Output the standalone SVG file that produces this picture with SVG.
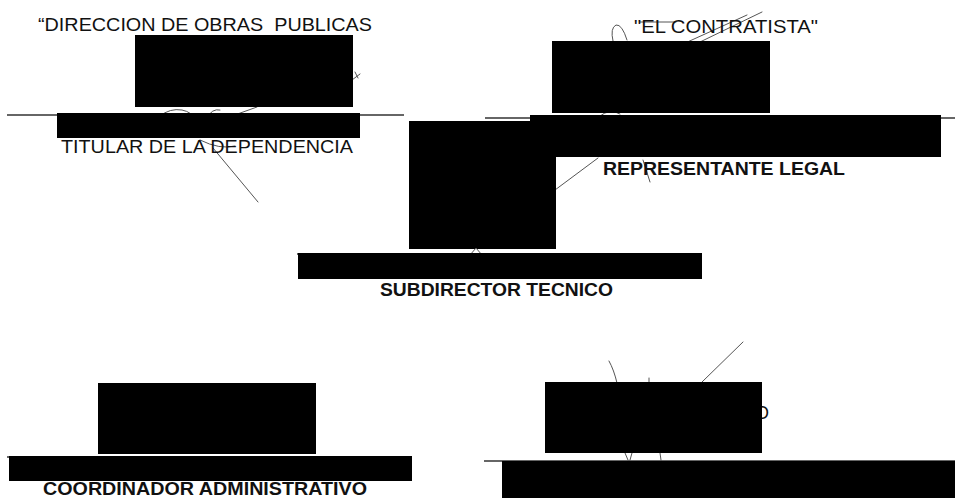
<svg xmlns="http://www.w3.org/2000/svg" width="955" height="498" viewBox="0 0 955 498">
<style>
.t{font-family:"Liberation Sans",Arial,sans-serif;font-size:18px;fill:#111}
.b{font-weight:bold}
.rule{stroke:#333;stroke-width:1.6;fill:none}
.box{fill:#000}
.sig{stroke:#555;stroke-width:1;fill:none;stroke-linecap:round}
</style>
<rect width="955" height="498" fill="#fff"/>

<g id="dependencia">
<text class="t" x="38" y="31" textLength="334" lengthAdjust="spacingAndGlyphs" xml:space="preserve">“DIRECCION DE OBRAS  PUBLICAS</text>
<line class="rule" x1="7" y1="115" x2="404" y2="115"/>
<path class="sig" d="M160 116 Q170 108 182 110 Q192 112 196 120 M207 118 Q212 108 220 110 M232 116 L257 107 M200 140 Q220 150 235 146 M213 148 L258 202 M352 80 L360 74 M355 72 L358 78"/>
<text class="t" x="61" y="153" textLength="292" lengthAdjust="spacingAndGlyphs">TITULAR DE LA DEPENDENCIA</text>
<rect class="box" x="135" y="35" width="218" height="72"/>
<rect class="box" x="57" y="113" width="303" height="25"/>
</g>

<g id="contratista">
<path class="sig" d="M613 41 Q610 28 616 25 Q622 24 627 40 M683 44 L747 15 M700 42 L762 12 M640 22 L676 22"/>
<text class="t" x="634" y="33" textLength="184" lengthAdjust="spacingAndGlyphs">"EL CONTRATISTA"</text>
<line class="rule" x1="485" y1="118" x2="955" y2="118"/>
<path class="sig" d="M555 190 L598 158 M643 160 L650 182 M600 116 Q610 108 620 114"/>
<text class="t b" x="603" y="175" textLength="242" lengthAdjust="spacingAndGlyphs">REPRESENTANTE LEGAL</text>
<rect class="box" x="552" y="41" width="218" height="72"/>
<rect class="box" x="530" y="115" width="411" height="42"/>
</g>

<g id="subdirector">
<rect class="box" x="409" y="121" width="147" height="128"/>
<line class="rule" x1="297" y1="254" x2="702" y2="254"/>
<path class="sig" d="M470 255 L476 248 L482 255"/>
<rect class="box" x="298" y="253" width="404" height="26"/>
<text class="t b" x="380" y="296" textLength="233" lengthAdjust="spacingAndGlyphs">SUBDIRECTOR TECNICO</text>
</g>

<g id="coordinador">
<text class="t" x="162" y="396" textLength="83" lengthAdjust="spacingAndGlyphs" style="fill:#777">TESTIGO</text>
<rect class="box" x="98" y="383" width="218" height="71"/>
<line class="rule" x1="7" y1="457" x2="412" y2="457"/>
<rect class="box" x="9" y="456" width="403" height="25"/>
<text class="t b" x="43" y="495" textLength="324" lengthAdjust="spacingAndGlyphs">COORDINADOR ADMINISTRATIVO</text>
</g>

<g id="testigo">
<path class="sig" d="M609 361 Q614 370 617 383 M649 378 L649 384 M702 382 L743 342 M625 453 L628 460 M632 453 L630 460 M660 453 L661 460"/>
<text class="t" x="769" y="419" text-anchor="end">TESTIGO</text>
<rect class="box" x="545" y="382" width="217" height="71"/>
<line class="rule" x1="484" y1="461" x2="955" y2="461"/>
<rect class="box" x="502" y="461" width="453" height="37"/>
</g>
</svg>
